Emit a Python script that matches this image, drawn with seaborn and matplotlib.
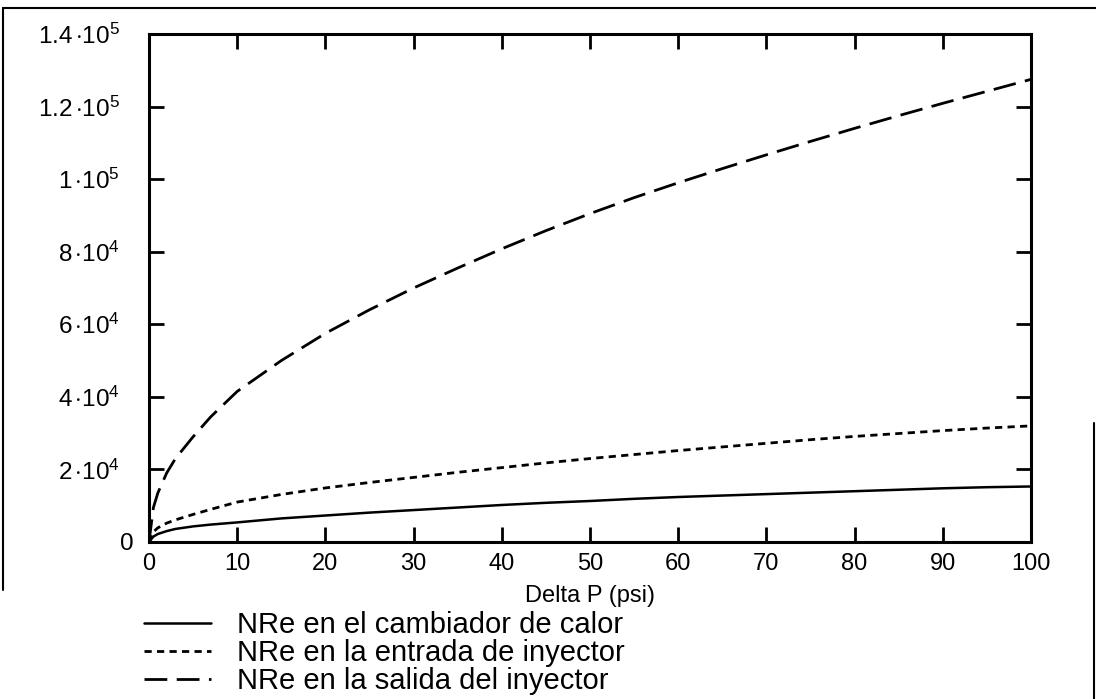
import matplotlib
matplotlib.use("Agg")
import matplotlib.pyplot as plt
from matplotlib.lines import Line2D
from matplotlib.transforms import ScaledTranslation
import seaborn as sns
import pandas as pd

# Pressure drop across the system (psi)
delta_p = [0, 0.5, 1, 2, 3, 5, 7, 10, 15, 20, 25, 30, 35, 40, 45, 50,
           55, 60, 65, 70, 75, 80, 85, 90, 95, 100]

# Reynolds numbers (thousands) at each point of the line
nre_cambiador = [0, 1.5, 2.2, 3.0, 3.6, 4.3, 4.8, 5.4, 6.5, 7.3, 8.1, 8.8,
                 9.5, 10.2, 10.8, 11.3, 11.9, 12.4, 12.8, 13.2, 13.6, 14.0,
                 14.4, 14.8, 15.1, 15.3]
nre_entrada = [0, 2.8, 3.9, 5.2, 6.1, 7.6, 9.0, 11.0, 13.1, 14.9, 16.4, 17.8,
               19.2, 20.5, 21.8, 23.0, 24.1, 25.2, 26.2, 27.2, 28.2, 29.1,
               29.9, 30.7, 31.4, 32.0]
nre_salida = [0, 9.5, 13.5, 19.0, 23.0, 29.0, 34.5, 41.5, 50.0, 57.5, 64.0,
              70.0, 75.5, 80.8, 85.8, 90.5, 94.9, 99.0, 102.9, 106.7, 110.4,
              114.0, 117.5, 120.9, 124.2, 127.5]

series_labels = ["NRe en el cambiador de calor",
                 "NRe en la entrada de inyector",
                 "NRe en la salida del inyector"]

x_ticks = [0, 10, 20, 30, 40, 50, 60, 70, 80, 90, 100]
y_ticks = [0, 20000, 40000, 60000, 80000, 100000, 120000, 140000]
y_tick_labels = ["0",
                 r"$2\,{\cdot}10^{4}$", r"$4\,{\cdot}10^{4}$",
                 r"$6\,{\cdot}10^{4}$", r"$8\,{\cdot}10^{4}$",
                 r"$1\,{\cdot}10^{5}$", r"$1.2\,{\cdot}10^{5}$",
                 r"$1.4\,{\cdot}10^{5}$"]

sns.set_theme(style="ticks")
plt.rcParams["font.family"] = ["Liberation Sans", "DejaVu Sans"]
plt.rcParams["mathtext.fontset"] = "custom"
plt.rcParams["mathtext.rm"] = "Liberation Sans"
plt.rcParams["mathtext.it"] = "Liberation Sans:italic"
plt.rcParams["mathtext.bf"] = "Liberation Sans:bold"
plt.rcParams["text.color"] = "black"

frames = []
for label, vals in zip(series_labels, [nre_cambiador, nre_entrada, nre_salida]):
    frames.append(pd.DataFrame({"dp": delta_p,
                                "nre": [v * 1000 for v in vals],
                                "serie": label}))
df = pd.concat(frames, ignore_index=True)

fig = plt.figure(figsize=(10.96, 6.99), dpi=100)
fig.patch.set_facecolor("white")
ax = fig.add_axes([149 / 1096, 157 / 699, 882 / 1096, 508 / 699])

line_styles = {
    series_labels[0]: dict(linestyle="-", linewidth=1.8),
    series_labels[1]: dict(linestyle=(0, (2.6, 1.9)), linewidth=2.0),
    series_labels[2]: dict(linestyle=(0, (8.2, 3.4)), linewidth=2.0),
}
for label in series_labels:
    sns.lineplot(data=df[df["serie"] == label], x="dp", y="nre", ax=ax,
                 color="black", label=label, estimator=None, sort=False,
                 **line_styles[label])

ax.set_xlim(0, 100)
ax.set_ylim(0, 140000)
ax.set_xticks(x_ticks)
ax.set_xticklabels([str(t) for t in x_ticks])
ax.set_yticks(y_ticks)
ax.set_yticklabels(y_tick_labels)

for side in ["left", "right", "top", "bottom"]:
    ax.spines[side].set_visible(True)
    ax.spines[side].set_linewidth(2.2)
    ax.spines[side].set_color("black")

ax.tick_params(axis="both", which="major", direction="in", length=11,
               width=2.0, colors="black", labelcolor="black", top=True,
               right=True, labeltop=False, labelright=False)
ax.tick_params(axis="x", labelsize=17, pad=8)
ax.tick_params(axis="y", labelsize=17.5, pad=21)

# keep the zero label closer to the axis than the scientific labels
ylabels = ax.get_yticklabels()
ylabels[0].set_transform(ylabels[0].get_transform()
                         + ScaledTranslation(14 / 100, 0, fig.dpi_scale_trans))

ax.set_xlabel("Delta P (psi)", fontsize=17, labelpad=7, color="black")
ax.set_ylabel("")

handles, labels = ax.get_legend_handles_labels()
ax.legend(handles, labels, loc="upper left",
          bbox_to_anchor=(144 / 1096, 1 - 611 / 699),
          bbox_transform=fig.transFigure, frameon=False,
          fontsize=21, handlelength=2.3, handletextpad=0.9,
          labelspacing=0.0, borderpad=0, borderaxespad=0,
          labelcolor="black")

# page border around the plot region
border_kw = dict(color="black", linewidth=1.5, transform=fig.transFigure)
fig.add_artist(Line2D([3 / 1096, 1], [1 - 8 / 699, 1 - 8 / 699], **border_kw))
fig.add_artist(Line2D([3 / 1096, 3 / 1096], [1 - 8 / 699, 1 - 590 / 699], **border_kw))
fig.add_artist(Line2D([1094 / 1096, 1094 / 1096], [1 - 423 / 699, 0], **border_kw))

fig.savefig("out.png", dpi=100, facecolor="white")
